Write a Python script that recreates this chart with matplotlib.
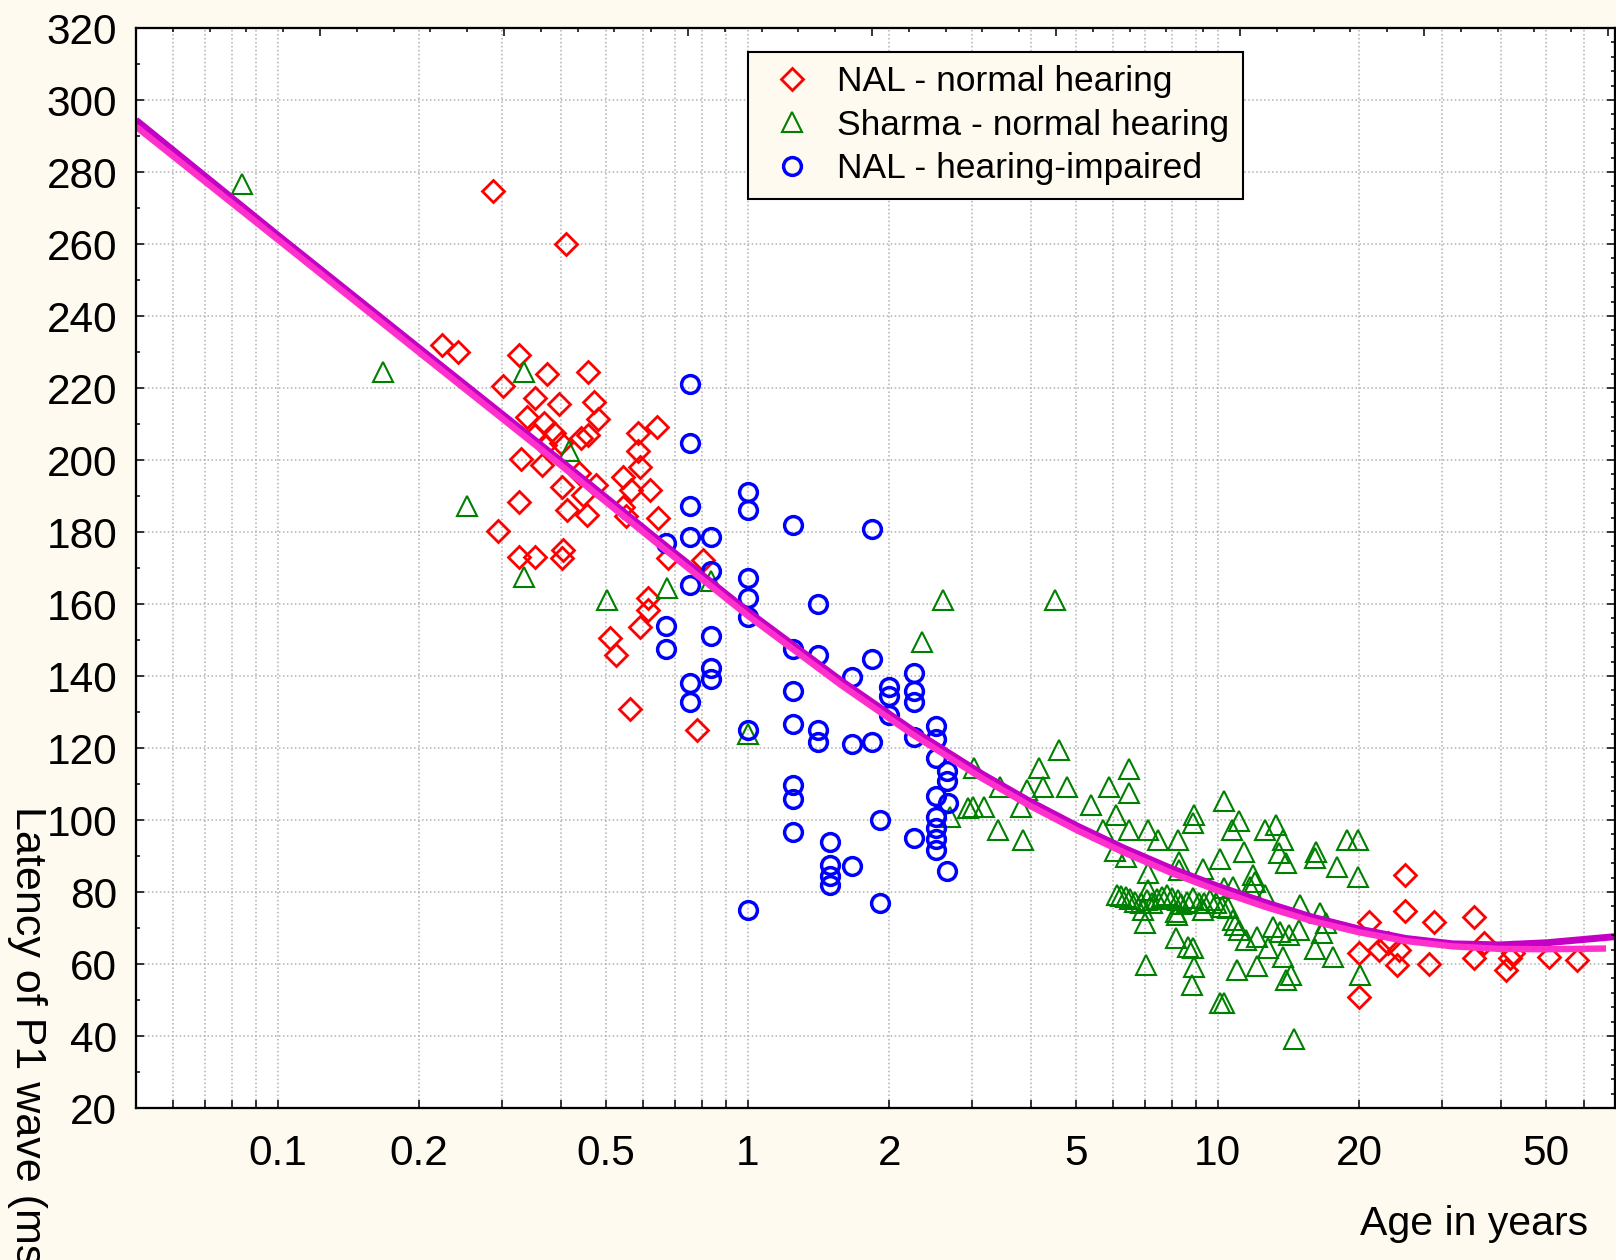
import matplotlib
matplotlib.use("Agg")
import matplotlib.pyplot as plt
from matplotlib.ticker import FixedLocator, FixedFormatter, MultipleLocator, NullFormatter

plt.rcParams["font.family"] = ["Liberation Sans", "DejaVu Sans"]

# ---- data: age in years, P1 latency in ms ----
nal_nh_age = [0.224, 0.242, 0.326, 0.374, 0.458, 0.302, 0.353, 0.397, 0.472, 0.339,
              0.481, 0.368, 0.353, 0.387, 0.401, 0.371, 0.442, 0.458, 0.585, 0.643,
              0.585, 0.330, 0.366, 0.590, 0.438, 0.544, 0.402, 0.477, 0.565, 0.620,
              0.326, 0.412, 0.455, 0.544, 0.551, 0.645, 0.294, 0.326, 0.353, 0.405,
              0.403, 0.678, 0.804, 0.615, 0.615, 0.446, 0.510, 0.525, 0.561, 0.782,
              0.590, 0.287, 0.410,
              25.0, 25.0, 21.0, 28.9, 35.1, 36.9, 23.0, 22.0, 24.3, 20.0,
              24.1, 28.1, 35.1, 42.4, 41.8, 41.0, 50.7, 58.2, 20.0]
nal_nh_lat = [231.9, 230.1, 229.2, 223.9, 224.5, 220.6, 217.1, 215.5, 216.2, 212.0,
              211.3, 210.2, 206.9, 207.4, 204.6, 204.2, 206.0, 206.9, 207.6, 209.3,
              202.5, 200.2, 198.6, 198.1, 196.3, 195.4, 192.6, 193.1, 191.7, 191.7,
              188.4, 186.1, 184.7, 187.0, 184.4, 183.8, 180.4, 173.1, 173.0, 175.0,
              172.9, 172.7, 172.2, 161.8, 158.3, 190.3, 150.5, 145.7, 130.7, 124.9,
              153.7, 274.8, 259.9,
              84.7, 74.7, 71.8, 71.8, 73.0, 65.8, 65.8, 63.9, 63.9, 63.0,
              59.7, 60.0, 61.6, 63.0, 61.6, 58.3, 62.0, 61.1, 50.9]

sharma_age = [0.0842, 0.168, 0.253, 0.334, 0.417, 0.334, 0.503, 0.673, 0.837, 2.60,
              2.35, 1.0, 4.51, 2.69, 2.94,
              3.03, 3.44, 3.02, 3.18, 3.41, 3.85, 3.92, 3.82, 4.17, 4.25,
              4.59, 4.78, 5.37, 5.87, 6.46, 6.46, 6.08, 5.70, 6.46, 7.10,
              7.46, 8.24, 6.06, 6.39, 8.29, 8.89, 8.85, 10.3, 11.1, 10.7,
              10.1, 9.31, 11.4, 7.10, 7.10, 6.99, 8.16, 8.64, 8.85, 8.89,
              8.82, 7.04, 10.1, 10.3, 11.0, 10.8, 10.9, 11.1, 11.5, 12.1,
              12.8, 12.1, 13.8, 14.0, 14.3, 13.1, 13.6, 14.2, 14.9, 16.5,
              16.7, 16.1, 17.6, 17.0, 14.5, 12.6, 13.3, 13.8, 13.5, 14.0,
              16.2, 16.1, 17.9, 18.8, 19.9, 19.9, 11.9, 12.0, 11.7, 12.6,
              10.8, 10.3, 15.0, 20.1, 8.29, 8.21,
              6.10, 6.23, 6.37, 6.51, 6.68, 6.87, 7.06, 7.25, 7.42, 7.62,
              7.79, 8.00, 8.22, 8.36, 8.59, 8.85, 9.11, 9.37, 9.63, 9.92,
              10.2, 10.5, 6.93, 8.16, 9.29]
sharma_lat = [276.8, 224.5, 187.2, 224.5, 202.5, 167.4, 161.1, 164.5, 166.3, 161.1,
              149.4, 123.9, 161.1, 100.8, 103.3,
              114.4, 109.3, 103.7, 103.7, 97.2, 94.4, 108.3, 103.7, 114.4, 109.3,
              119.4, 109.3, 104.2, 109.3, 114.2, 107.4, 101.4, 97.2, 97.2, 97.2,
              94.4, 94.4, 91.4, 89.6, 88.2, 101.4, 99.3, 105.3, 99.8, 97.2,
              89.2, 86.4, 91.2, 85.4, 80.6, 71.3, 67.1, 64.8, 64.4, 59.3,
              54.2, 59.7, 49.3, 49.3, 58.3, 72.2, 70.8, 69.4, 66.7, 67.6,
              64.4, 59.4, 62.0, 55.6, 57.0, 70.4, 69.0, 68.1, 69.4, 74.1,
              68.5, 64.2, 62.0, 71.3, 39.1, 97.2, 98.6, 94.4, 90.8, 88.0,
              91.2, 89.4, 87.0, 94.4, 94.4, 84.3, 84.7, 82.9, 81.5, 79.2,
              81.5, 81.0, 76.4, 57.0, 86.1, 73.6,
              79.2, 78.9, 78.5, 78.0, 77.3, 77.0, 77.8, 76.9, 78.0, 78.7,
              79.2, 78.3, 77.8, 76.7, 77.3, 78.3, 77.0, 76.9, 77.8, 77.0,
              75.9, 75.5, 75.0, 74.5, 75.0]

nal_hi_age = [0.754, 0.754, 1.0, 1.0, 0.754, 1.25, 1.84, 0.754, 0.835, 0.670,
              0.835, 0.754, 1.0, 1.0, 1.0, 1.41, 0.670, 0.670, 0.835, 0.835,
              0.835, 0.754, 0.754, 1.25, 1.41, 1.84, 1.67, 1.25, 2.0, 2.0,
              2.0, 2.26, 2.26, 2.26, 2.26, 2.51, 2.51, 2.51, 2.65, 2.65,
              2.51, 2.67, 2.51, 2.51, 2.51, 2.51, 2.65, 2.26, 1.91, 1.91,
              1.25, 1.41, 1.41, 1.67, 1.84, 1.0, 1.25, 1.25, 1.25, 1.50,
              1.50, 1.50, 1.50, 1.67, 1.0]
nal_hi_lat = [221.0, 204.7, 191.1, 186.1, 187.3, 181.9, 180.9, 178.7, 178.7, 177.0,
              169.2, 165.3, 167.1, 161.8, 156.4, 160.0, 153.9, 147.6, 151.1, 142.3,
              139.2, 138.0, 132.8, 147.6, 145.9, 144.6, 139.7, 135.7, 137.0, 134.5,
              129.1, 140.7, 135.7, 132.8, 123.1, 126.1, 122.6, 117.2, 113.7, 110.7,
              106.8, 104.8, 100.7, 97.8, 94.8, 91.7, 85.9, 95.0, 100.1, 77.0,
              126.6, 125.1, 121.6, 121.0, 121.6, 125.1, 109.7, 105.9, 96.8, 93.9,
              87.4, 84.4, 81.9, 87.1, 75.0]

# fitted age trend (two overlaid fits)
fit_age = [0.05, 0.1, 0.2, 0.4, 0.63, 1.0, 1.58, 2.24, 3.16, 3.98, 5.01,
           6.31, 7.94, 10.0, 12.6, 15.8, 20.0, 25.1, 31.6, 39.8, 50.1, 67.0]
fit_pink = [292.6, 261.3, 229.9, 198.6, 177.7, 156.8, 137.5, 123.8, 111.5, 104.0, 97.2,
            91.0, 85.4, 80.4, 75.9, 72.0, 68.8, 66.4, 64.9, 64.2, 64.1, 64.3]
fit_purple_age = [0.05, 0.1, 0.2, 0.4, 0.63, 1.0, 1.58, 2.24, 3.16, 3.98, 5.01,
                  6.31, 7.94, 10.0, 12.6, 15.8, 20.0, 25.1, 31.6, 39.8, 50.1, 70.0]
fit_purple = [294.4, 262.5, 231.1, 199.8, 178.9, 158.0, 138.7, 125.0, 112.7, 105.2, 98.4,
              92.2, 86.6, 81.6, 77.1, 73.1, 69.7, 67.1, 65.6, 65.3, 65.9, 67.6]

x_major = [0.1, 0.2, 0.5, 1, 2, 5, 10, 20, 50]
x_major_labels = ["0.1", "0.2", "0.5", "1", "2", "5", "10", "20", "50"]
x_minor = [0.06, 0.07, 0.08, 0.09, 0.3, 0.4, 0.6, 0.7, 0.8, 0.9,
           3, 4, 6, 7, 8, 9, 30, 40, 60]
series_labels = ["NAL - normal hearing", "Sharma - normal hearing", "NAL - hearing-impaired"]

BG = "#FEFAEF"
W, H = 1616, 1260

fig = plt.figure(figsize=(W / 100, H / 100), dpi=100, facecolor=BG)
ax = fig.add_axes([136 / W, 1 - 1108 / H, 1479 / W, 1080 / H])
ax.set_facecolor("white")
ax.set_xscale("log")
ax.set_xlim(0.05, 70)
ax.set_ylim(20, 320)

grid_kw = dict(color="#b0b0b0", linestyle=(0, (1, 1.6)), linewidth=1.1)
ax.xaxis.set_major_locator(FixedLocator(x_major))
ax.xaxis.set_major_formatter(FixedFormatter(x_major_labels))
ax.xaxis.set_minor_locator(FixedLocator(x_minor))
ax.xaxis.set_minor_formatter(NullFormatter())
ax.yaxis.set_major_locator(MultipleLocator(20))
ax.yaxis.set_minor_locator(MultipleLocator(10))
ax.grid(True, which="both", axis="x", **grid_kw)
ax.grid(True, which="major", axis="y", **grid_kw)
ax.set_axisbelow(True)

ax.tick_params(axis="x", which="both", direction="in", length=5.8, width=1.1,
               labelsize=30.5, pad=19)
ax.tick_params(axis="y", which="major", direction="in", length=5.5, width=1.1,
               labelsize=30.5, pad=13.5)
ax.tick_params(axis="y", which="minor", direction="in", length=3, width=1.1)
for sp in ax.spines.values():
    sp.set_linewidth(1.5)

mk = dict(linestyle="none", markerfacecolor="none")
ax.plot(nal_nh_age, nal_nh_lat, marker="D", markersize=11, markeredgewidth=2.0,
        markeredgecolor="#ff0000", label=series_labels[0], **mk)
ax.plot(sharma_age, sharma_lat, marker="^", markersize=13.7, markeredgewidth=1.5,
        markeredgecolor="#008000", label=series_labels[1], **mk)
ax.plot(nal_hi_age, nal_hi_lat, marker="o", markersize=12.8, markeredgewidth=2.5,
        markeredgecolor="#0000ff", label=series_labels[2], **mk)

ax.plot(fit_purple_age, fit_purple, color="#c400c4", linewidth=5.0,
        solid_capstyle="butt", zorder=4)
ax.plot(fit_age, fit_pink, color="#ff30cc", linewidth=4.6,
        solid_capstyle="butt", zorder=5)

leg = ax.legend(loc="upper left", bbox_to_anchor=(748 / W, 1 - 51.7 / H),
                bbox_transform=fig.transFigure, borderaxespad=0, fontsize=25.5,
                numpoints=1, frameon=True, fancybox=False, framealpha=1,
                facecolor=BG, edgecolor="black", borderpad=0.38,
                handlelength=1.72, handletextpad=0.42, labelspacing=0.30)
leg.get_frame().set_linewidth(1.5)
leg.set_zorder(10)

# extra tick-only frame axes on top and right
top = ax.twiny()
top.set_xlim(0, 1479 / 184)
top.xaxis.set_major_locator(MultipleLocator(1))
top.xaxis.set_minor_locator(MultipleLocator(0.2))
top.tick_params(axis="x", which="major", direction="in", length=5.8, width=1.1,
                labeltop=False)
top.tick_params(axis="x", which="minor", direction="in", length=3, width=1.1)
right = ax.twinx()
right.set_ylim(20, 320)
right.yaxis.set_major_locator(MultipleLocator(20))
right.yaxis.set_minor_locator(MultipleLocator(4))
right.tick_params(axis="y", which="major", direction="in", length=5.8, width=1.1,
                  labelright=False)
right.tick_params(axis="y", which="minor", direction="in", length=3, width=1.1)
for a in (top, right):
    for sp in a.spines.values():
        sp.set_linewidth(1.5)

fig.text(27 / W, 1 - 806 / H, "Latency of P1 wave (ms)", rotation=-90,
         ha="center", va="top", fontsize=31)
fig.text(1360 / W, 1 - 1235 / H, "Age in years", ha="left", va="baseline",
         fontsize=29.5)

fig.savefig("out.png", dpi=100, facecolor=BG)
